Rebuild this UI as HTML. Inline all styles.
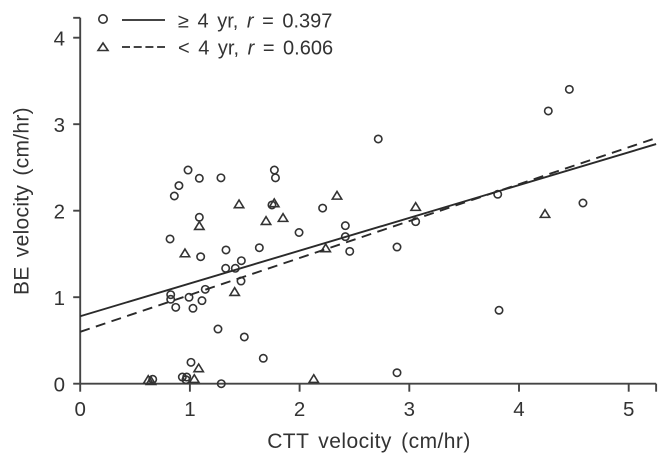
<!DOCTYPE html>
<html>
<head>
<meta charset="utf-8">
<style>
html,body{margin:0;padding:0;background:#fff;width:670px;height:465px;overflow:hidden}
svg{display:block}
text{font-family:"Liberation Sans",sans-serif;fill:#333}
</style>
</head>
<body>
<svg id="chart" xmlns="http://www.w3.org/2000/svg" width="670" height="465" viewBox="0 0 670 465">
  <g id="axes"></g>
  <g id="marks"></g>
  <g id="lines"></g>
  <g>
    <circle cx="103" cy="19" r="4.2" fill="none" stroke="#333" stroke-width="1.6"/>
    <line x1="122" y1="20" x2="165" y2="20" stroke="#2a2a2a" stroke-width="1.8"/>
    <text x="178" y="27.5" font-size="20" word-spacing="3">≥ 4 yr, <tspan font-style="italic">r</tspan> = 0.397</text>
    <polygon points="103,43 108,50.5 98,50.5" fill="none" stroke="#333" stroke-width="1.6"/>
    <line x1="122" y1="47" x2="165" y2="47" stroke="#2a2a2a" stroke-width="1.8" stroke-dasharray="8 3.7"/>
    <text x="178" y="54.5" font-size="20" word-spacing="3">&lt; 4 yr, <tspan font-style="italic">r</tspan> = 0.606</text>
  </g>
  <text x="369" y="448" font-size="21" letter-spacing="0.45" word-spacing="3" text-anchor="middle">CTT velocity (cm/hr)</text>
  <text transform="translate(28.5,201) rotate(-90)" font-size="21" letter-spacing="0.3" word-spacing="3" text-anchor="middle">BE velocity (cm/hr)</text>
</svg>
<script>
const xTicks = [0, 1, 2, 3, 4, 5];
const yTicks = [0, 1, 2, 3, 4];
const xMax = 5.25;
const yMax = 4.23;
const circleX = [0.983,1.086,1.283,0.90,0.858,1.77,1.78,1.748,1.086,2.21,2.417,1.995,0.819,1.098,1.329,1.633,2.417,2.457,1.469,1.326,1.414,1.466,1.14,0.825,0.825,0.992,1.11,0.871,1.028,1.256,1.496,1.669,1.01,0.931,0.971,0.964,0.661,1.286,2.717,4.267,4.459,3.806,3.058,2.888,4.583,3.818,2.888];
const circleY = [2.47,2.375,2.38,2.29,2.17,2.47,2.38,2.066,1.924,2.03,1.827,1.748,1.673,1.468,1.546,1.572,1.70,1.53,1.422,1.334,1.334,1.187,1.091,1.029,0.976,0.999,0.96,0.883,0.872,0.632,0.54,0.294,0.247,0.077,0.077,0.046,0.051,0,2.829,3.153,3.403,2.19,1.873,1.58,2.089,0.849,0.127];
const triangleX = [1.448,1.769,1.694,1.849,2.341,1.086,0.955,1.408,2.238,1.08,1.04,2.129,0.62,0.645,3.058,4.237];
const triangleY = [2.074,2.086,1.881,1.916,2.173,1.823,1.507,1.06,1.565,0.178,0.054,0.054,0.043,0.03,2.043,1.962];
const solidFit = [0.78, 2.77];
const dashedFit = [0.60, 2.84];

const NS = 'http://www.w3.org/2000/svg';
const sx = v => 80.2 + v * 109.7;
const sy = v => 383.7 - v * 86.5;
const mk = (parent, tag, attrs) => {
  const el = document.createElementNS(NS, tag);
  for (const k in attrs) el.setAttribute(k, attrs[k]);
  parent.appendChild(el);
  return el;
};
const axes = document.getElementById('axes');
const marks = document.getElementById('marks');
const lines = document.getElementById('lines');
const axisStyle = {stroke: '#444', 'stroke-width': 1.9, fill: 'none'};

const yAxis = mk(axes, 'line', Object.assign({x1: sx(0), x2: sx(0), y1: sy(yMax), y2: sy(0)}, axisStyle));


const xAxis = mk(axes, 'line', Object.assign({x1: sx(0), x2: sx(xMax), y1: sy(0), y2: sy(0)}, axisStyle));



const yCap = mk(axes, 'line', Object.assign({x1: sx(0) - 7, x2: sx(0), y1: sy(yMax), y2: sy(yMax)}, axisStyle));


const xCap = mk(axes, 'line', Object.assign({x1: sx(xMax), x2: sx(xMax), y1: sy(0), y2: sy(0) + 8}, axisStyle));



xTicks.forEach(t => {
  const tick = mk(axes, 'line', Object.assign({x1: sx(t), x2: sx(t), y1: sy(0), y2: sy(0) + 8}, axisStyle));
  
  
  const label = mk(axes, 'text', {x: sx(t), y: 416, 'font-size': 20.5, 'text-anchor': 'middle'});
  label.textContent = t;
  
  
});
yTicks.forEach(t => {
  const tick = mk(axes, 'line', Object.assign({x1: sx(0) - 7, x2: sx(0), y1: sy(t), y2: sy(t)}, axisStyle));
  
  
  const label = mk(axes, 'text', {x: 65, y: sy(t) + 8, 'font-size': 20.5, 'text-anchor': 'end'});
  label.textContent = t;
  
  
});

circleX.forEach((v, i) => {
  const c = mk(marks, 'circle', {cx: sx(v), cy: sy(circleY[i]), r: 3.7, fill: 'none', stroke: '#333', 'stroke-width': 1.6});
  
  
});
triangleX.forEach((v, i) => {
  const x = sx(v), y = sy(triangleY[i]);
  const p = mk(marks, 'polygon', {points: `${x},${y - 4.3} ${x + 4.7},${y + 3.4} ${x - 4.7},${y + 3.4}`, fill: 'none', stroke: '#333', 'stroke-width': 1.6});
  
  
});

const solid = mk(lines, 'line', {x1: sx(0), y1: sy(solidFit[0]), x2: sx(xMax), y2: sy(solidFit[1]), stroke: '#2a2a2a', 'stroke-width': 1.9});


const dashed = mk(lines, 'line', {x1: sx(0), y1: sy(dashedFit[0]), x2: sx(xMax), y2: sy(dashedFit[1]), stroke: '#2a2a2a', 'stroke-width': 1.9, 'stroke-dasharray': '10 6.5'});


</script>
</body>
</html>
